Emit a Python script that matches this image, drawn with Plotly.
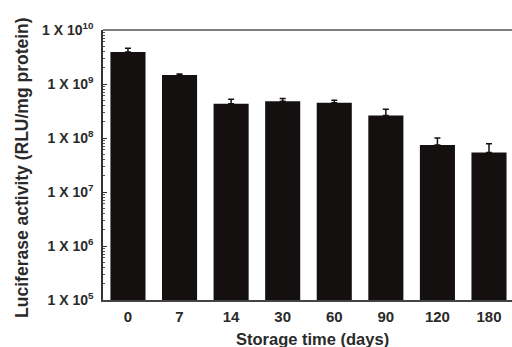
import plotly.graph_objects as go

days = ["0", "7", "14", "30", "60", "90", "120", "180"]
activity = [3.9e9, 1.47e9, 4.3e8, 4.8e8, 4.5e8, 2.6e8, 7.4e7, 5.4e7]
err_top = [4.6e9, 1.53e9, 5.2e8, 5.4e8, 5.0e8, 3.4e8, 1.0e8, 7.8e7]
tick_vals = [1e5, 1e6, 1e7, 1e8, 1e9, 1e10]
tick_text = ["1 X 10<sup>5</sup>", "1 X 10<sup>6</sup>", "1 X 10<sup>7</sup>",
             "1 X 10<sup>8</sup>", "1 X 10<sup>9</sup>", "1 X 10<sup>10</sup>"]

err_plus = [t - v for t, v in zip(err_top, activity)]

fig = go.Figure(go.Bar(
    x=list(range(len(days))), y=activity,
    width=0.68,
    marker=dict(color="#141010", line=dict(width=0)),
    error_y=dict(type="data", symmetric=False, array=err_plus,
                 arrayminus=[0] * len(days), color="#141010",
                 thickness=1.5, width=3),
))

font = "Liberation Sans, Arial, sans-serif"
fig.update_layout(
    width=512, height=347,
    margin=dict(l=103, r=0, t=30, b=47),
    paper_bgcolor="white", plot_bgcolor="white",
    showlegend=False,
    font=dict(family=font, color="#222222"),
    xaxis=dict(
        range=[-0.484, 7.446],
        tickvals=list(range(len(days))), ticktext=[f"<b>{d}</b>" for d in days],
        tickfont=dict(size=15, color="#2a2a2a"),
        showline=True, linecolor="#444444", linewidth=1.5, mirror=False,
        ticks="", showgrid=False, zeroline=False,
        ticklabelstandoff=2,
    ),
    yaxis=dict(
        type="log", range=[5, 10],
        tickvals=tick_vals, ticktext=[f"<b>{t}</b>" for t in tick_text],
        tickfont=dict(size=14, color="#2a2a2a"),
        showline=True, linecolor="#333333", linewidth=1.5, mirror=False,
        ticks="inside", ticklen=4, tickcolor="#333333",
        minor=dict(ticks="inside", ticklen=2, tickcolor="#555555",
                   dtick="D1", showgrid=False),
        showgrid=False, zeroline=False,
        ticklabelstandoff=5,
    ),
    shapes=[dict(type="line", xref="paper", yref="paper", x0=0, x1=1, y0=1, y1=1,
                 line=dict(color="#555555", width=1.5))],
    annotations=[
        dict(text="<b>Storage time (days)</b>", xref="paper", yref="paper",
             x=0.513, y=-0.143, xanchor="center", yanchor="middle",
             showarrow=False, font=dict(size=16.5, color="#2a2a2a")),
        dict(text="<b>Luciferase activity (RLU/mg protein)</b>", xref="paper",
             yref="paper", x=-0.2, y=0.49, xanchor="center", yanchor="middle",
             textangle=-90, showarrow=False,
             font=dict(size=17.5, color="#2a2a2a")),
    ],
)

fig.write_html("out.html", config={"displayModeBar": False},
               post_script="document.body.style.margin='0';"
                           "document.body.style.overflow='hidden';")
